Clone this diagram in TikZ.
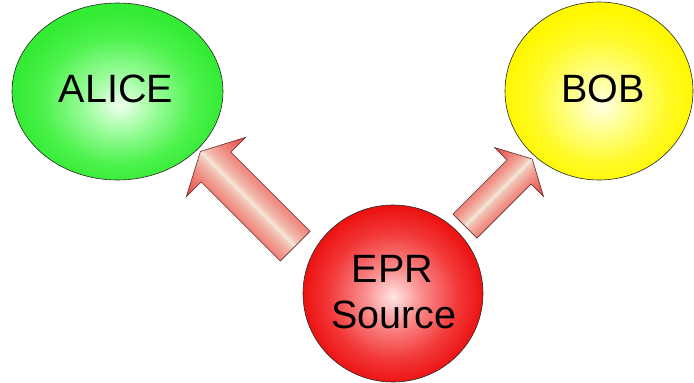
\documentclass[tikz,border=0pt]{standalone}
\usepackage{fontspec}
\setmainfont{Liberation Sans}
\usetikzlibrary{shapes.geometric}
\definecolor{arrC}{RGB}{243,241,224}
\definecolor{arrM}{RGB}{240,130,120}
\definecolor{arrE}{RGB}{228,66,66}
\definecolor{arrLine}{RGB}{100,50,50}
\pgfdeclareradialshading{gglow}{\pgfpoint{0.5bp}{-4bp}}{rgb(0bp)=(0.94,1,0.94); rgb(8bp)=(0.62,0.99,0.62); rgb(18bp)=(0.3,0.95,0.3); rgb(25bp)=(0.2,0.92,0.2); rgb(50bp)=(0.2,0.92,0.2)}
\pgfdeclareradialshading{yglow}{\pgfpoint{0.5bp}{-4bp}}{rgb(0bp)=(1,1,0.9); rgb(8bp)=(1,1,0.55); rgb(18bp)=(1,0.98,0.15); rgb(25bp)=(1,0.97,0); rgb(50bp)=(1,0.97,0)}
\pgfdeclareradialshading{rglow}{\pgfpoint{0bp}{-1bp}}{rgb(0bp)=(1,0.9,0.9); rgb(8bp)=(0.98,0.55,0.55); rgb(18bp)=(0.95,0.22,0.22); rgb(25bp)=(0.93,0.07,0.07); rgb(50bp)=(0.93,0.07,0.07)}
\tikzset{
  party/.style={ellipse, draw=black!85, line width=0.6pt, inner sep=0pt, shade},
  lbl/.style={font=\fontsize{39.5}{47}\selectfont, text=black, anchor=base, inner sep=0pt},
  arrline/.style={draw=arrLine, line width=0.6pt, line join=miter},
}
% #1 = L, #2 = shaft half-width, #3 = head half-width, #4 = head length
\newcommand{\myblockarrow}[4]{%
  \begin{scope}
    \clip (0,-#2) -- (#1-#4,-#2) -- (#1-#4,-#3) -- (#1,0) -- (#1-#4,#3) -- (#1-#4,#2) -- (0,#2) -- cycle;
    \foreach \k in {0,...,39}{
      \pgfmathsetmacro\ya{\k*#3/40}
      \pgfmathsetmacro\yb{(\k+1)*#3/40+0.4}
      \pgfmathsetmacro\tt{(\k+0.5)/40}
      \pgfmathsetmacro\pa{100*(min(1,\tt*#3/#2))^0.6}
      \pgfmathsetmacro\pb{max(0,(\tt*#3-#2)/(#3-#2)*100)}
      \colorlet{tmpa}{arrM!\pa!arrC}
      \colorlet{tmpc}{arrE!\pb!tmpa}
      \fill[tmpc] (0,\ya) rectangle (#1,\yb);
      \fill[tmpc] (0,-\ya) rectangle (#1,-\yb);
    }
  \end{scope}
  \path[arrline] (0,-#2) -- (#1-#4,-#2) -- (#1-#4,-#3) -- (#1,0) -- (#1-#4,#3) -- (#1-#4,#2) -- (0,#2) -- cycle;
}
\begin{document}
\begin{tikzpicture}[x=1pt,y=-1pt]
  \useasboundingbox[fill=white] (0,0) rectangle (694,383);
  % parties
  \node[party, shading=gglow, minimum width=211pt, minimum height=177pt] (alice) at (117.5,91.5) {};
  \node[party, shading=yglow, minimum width=188pt, minimum height=178pt] (bob) at (599,91) {};
  \node[party, shading=rglow, minimum width=180pt, minimum height=177pt] (epr) at (393,293.5) {};
  % labels
  \node[lbl] (alicetxt) at (116,102) {ALICE};
  \node[lbl] (bobtxt) at (603,102) {BOB};
  \node[lbl] (eprtxt) at (392.5,282) {EPR};
  \node[lbl] (srctxt) at (394,328) {Source};
  % arrows
  \coordinate (tailA) at (295.2,246.2);
  \coordinate (tailB) at (465,226.1);
  \begin{scope}[shift={(tailA)}, rotate=135]
    \myblockarrow{134}{21}{42}{22}
  \end{scope}
  \begin{scope}[shift={(tailB)}, rotate=45]
    \myblockarrow{95}{17}{34.5}{18.5}
  \end{scope}
\end{tikzpicture}
\end{document}
